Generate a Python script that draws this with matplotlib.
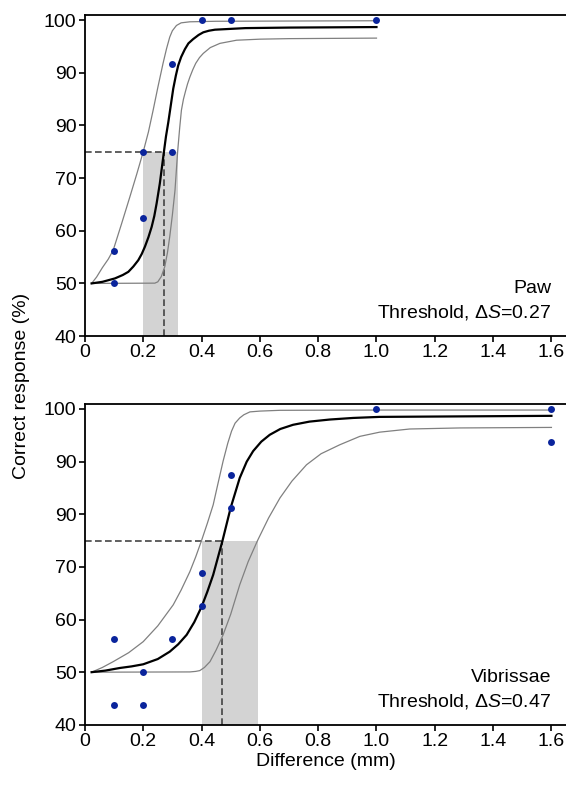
import numpy as np
import matplotlib.pyplot as plt

plt.rcParams['font.family'] = ['Liberation Sans', 'DejaVu Sans']
plt.rcParams['mathtext.fontset'] = 'custom'
plt.rcParams['mathtext.rm'] = 'Liberation Sans'
plt.rcParams['mathtext.it'] = 'Liberation Sans:italic'

# ---- данные: панель "Paw" ----
paw_x = [0.1, 0.1, 0.2, 0.2, 0.3, 0.3, 0.4, 0.5, 1.0]
paw_y = [56.25, 50, 75, 62.5, 75, 91.67, 100, 100, 100]

paw_fit_x = [0.023, 0.06, 0.103, 0.13, 0.149, 0.166, 0.183, 0.195, 0.206, 0.218,
             0.229, 0.238, 0.246, 0.257, 0.264, 0.271, 0.278, 0.286, 0.295, 0.303,
             0.312, 0.320, 0.33, 0.343, 0.355, 0.371, 0.39, 0.406, 0.425, 0.446,
             0.55, 0.7, 1.0]
paw_fit_y = [50.0, 50.3, 50.95, 51.6, 52.2, 53.2, 54.4, 55.6, 57.0, 58.8,
             60.75, 62.8, 65.2, 69.0, 72.0, 75.0, 77.9, 80.6, 84.0, 87.0,
             89.5, 91.4, 93.0, 94.5, 95.6, 96.4, 97.2, 97.7, 98.0, 98.2,
             98.5, 98.6, 98.7]
paw_hi_x = [0.023, 0.04, 0.06, 0.08, 0.097, 0.125, 0.154, 0.178, 0.2, 0.218,
            0.234, 0.25, 0.268, 0.28, 0.291, 0.3, 0.314, 0.33, 0.36, 0.45, 1.0]
paw_hi_y = [50.0, 51.2, 53.0, 54.6, 56.3, 61.2, 66.4, 70.8, 75.0, 78.8,
            82.9, 87.2, 91.8, 94.6, 96.8, 98.0, 99.0, 99.5, 99.7, 99.8, 99.9]
paw_lo_x = [0.023, 0.24, 0.25, 0.262, 0.274, 0.283, 0.291, 0.3, 0.309, 0.318,
            0.325, 0.331, 0.338, 0.345, 0.352, 0.36, 0.37, 0.38, 0.393, 0.406,
            0.43, 0.463, 0.52, 0.6, 0.7, 1.0]
paw_lo_y = [50.0, 50.05, 50.3, 51.3, 53.2, 55.8, 58.9, 63.0, 67.7, 75.0,
            79.5, 82.9, 85.0, 86.5, 87.9, 89.2, 90.6, 91.8, 92.9, 93.7,
            94.8, 95.6, 96.2, 96.4, 96.5, 96.6]
paw_thr = 0.27
paw_band = (0.2, 0.32)

# ---- данные: панель "Vibrissae" ----
vib_x = [0.1, 0.1, 0.2, 0.2, 0.3, 0.4, 0.4, 0.5, 0.5, 1.0, 1.6, 1.6]
vib_y = [56.25, 43.75, 50, 43.75, 56.25, 68.75, 62.5, 87.5, 81.25, 100, 100, 93.75]

vib_fit_x = [0.023, 0.07, 0.12, 0.16, 0.2, 0.25, 0.291, 0.32, 0.349, 0.375,
             0.4, 0.42, 0.44, 0.472, 0.5, 0.531, 0.555, 0.577, 0.605, 0.634,
             0.67, 0.714, 0.77, 0.84, 0.92, 1.01, 1.3, 1.6]
vib_fit_y = [50.0, 50.3, 50.8, 51.1, 51.5, 52.5, 53.9, 55.3, 57.1, 59.5,
             62.4, 65.3, 68.5, 75.0, 81.25, 86.9, 90.0, 92.0, 93.8, 95.1,
             96.2, 97.0, 97.6, 98.0, 98.3, 98.5, 98.6, 98.7]
vib_hi_x = [0.023, 0.06, 0.097, 0.15, 0.2, 0.25, 0.303, 0.33, 0.36, 0.38,
            0.4, 0.42, 0.44, 0.455, 0.474, 0.49, 0.503, 0.515, 0.531, 0.545,
            0.566, 0.6, 0.669, 1.0, 1.6]
vib_hi_y = [50.0, 50.9, 52.0, 53.7, 55.8, 58.8, 62.8, 65.6, 69.1, 71.9,
            75.0, 78.3, 81.8, 85.5, 90.1, 93.5, 95.8, 97.3, 98.3, 98.9,
            99.45, 99.6, 99.75, 99.8, 99.8]
vib_lo_x = [0.023, 0.36, 0.38, 0.394, 0.41, 0.429, 0.45, 0.474, 0.5, 0.531,
            0.56, 0.592, 0.63, 0.669, 0.71, 0.76, 0.81, 0.874, 0.943, 1.011,
            1.114, 1.286, 1.6]
vib_lo_y = [50.0, 50.05, 50.15, 50.3, 50.9, 52.0, 54.2, 57.1, 61.0, 66.6,
            71.0, 75.0, 79.3, 83.1, 86.3, 89.4, 91.5, 93.2, 94.8, 95.6,
            96.2, 96.4, 96.5]
vib_thr = 0.47
vib_band = (0.4, 0.592)

x_ticks = [0, 0.2, 0.4, 0.6, 0.8, 1.0, 1.2, 1.4, 1.6]
x_ticklabels = ['0', '0.2', '0.4', '0.6', '0.8', '1.0', '1.2', '1.4', '1.6']
y_ticks = [40, 50, 60, 70, 80, 90, 100]
y_ticklabels = ['40', '50', '60', '70', '90', '90', '100']  # как в оригинале


def panel(ax, px, py, fx, fy, hx, hy, lx, ly, thr, band, name):
    ax.fill_between(band, 40, 75, color='#d3d3d3', lw=0, zorder=1)
    ax.plot([0, thr], [75, 75], color='#444444', lw=1.2, ls=(0, (4, 2)), zorder=2)
    ax.plot([thr, thr], [40, 75], color='#444444', lw=1.2, ls=(0, (4, 2)), zorder=2)
    ax.plot(hx, hy, color='#808080', lw=0.9, zorder=3)
    ax.plot(lx, ly, color='#808080', lw=0.9, zorder=3)
    ax.plot(fx, fy, color='black', lw=1.6, zorder=4)
    ax.plot(px, py, 'o', color='#0a249c', markersize=5, mec='none', zorder=5,
            clip_on=False)

    ax.set_xlim(0, 1.65)
    ax.set_ylim(40, 101)
    ax.set_xticks(x_ticks)
    ax.set_xticklabels(x_ticklabels)
    ax.set_yticks(y_ticks)
    ax.set_yticklabels(y_ticklabels)
    ax.tick_params(direction='out', length=4, width=1.2, labelsize=14, pad=2)
    ax.spines['right'].set_visible(False)
    for s in ['left', 'bottom', 'top']:
        ax.spines[s].set_linewidth(1.3)

    ax.text(1.6, 42.6, name + '\n' + r'Threshold, $\Delta S$=' + f'{thr:.2f}',
            ha='right', va='bottom', fontsize=14, linespacing=1.45)


fig = plt.figure(figsize=(5.66, 7.87), dpi=100)
ax1 = fig.add_axes([0.150, 0.573, 0.85, 0.408])
ax2 = fig.add_axes([0.150, 0.079, 0.85, 0.408])

panel(ax1, paw_x, paw_y, paw_fit_x, paw_fit_y, paw_hi_x, paw_hi_y,
      paw_lo_x, paw_lo_y, paw_thr, paw_band, 'Paw')
panel(ax2, vib_x, vib_y, vib_fit_x, vib_fit_y, vib_hi_x, vib_hi_y,
      vib_lo_x, vib_lo_y, vib_thr, vib_band, 'Vibrissae')

ax2.set_xlabel('Difference (mm)', fontsize=14, labelpad=2)
fig.text(0.038, 0.51, 'Correct response (%)', rotation=90, ha='center',
         va='center', fontsize=14)

plt.savefig('out.png', dpi=100)
